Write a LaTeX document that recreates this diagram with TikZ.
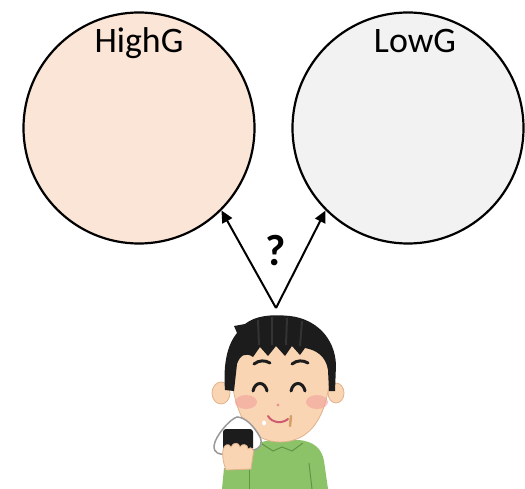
\documentclass[tikz,border=0pt]{standalone}
\usepackage{fontspec}
\setmainfont{Carlito}
\usepackage{tikz}
\usetikzlibrary{arrows.meta, positioning}
\definecolor{highfill}{RGB}{251, 229, 214}
\definecolor{lowfill}{RGB}{242, 242, 242}
\definecolor{skin}{RGB}{249, 213, 180}
\definecolor{skinline}{RGB}{226, 178, 140}
\definecolor{hair}{RGB}{28, 28, 28}
\definecolor{shirt}{RGB}{141, 195, 104}
\definecolor{shirtline}{RGB}{98, 148, 70}
\definecolor{cheek}{RGB}{243, 160, 155}
\definecolor{mouth}{RGB}{206, 92, 112}
\definecolor{food}{RGB}{214, 160, 105}

\begin{document}
\begin{tikzpicture}[x=1bp, y=-1bp,
      group/.style={
        circle, draw=black, line width=2.2bp,
        minimum size=231bp, inner sep=0pt
      },
      title/.style={font=\fontsize{36}{40}\selectfont, anchor=base},
      arr/.style={-{Triangle[length=12bp, width=11bp]}, line width=2bp, color=black},
      face/.style={line width=3bp, line cap=round, color=hair}
  ]
    \useasboundingbox (0,0) rectangle (525,489);

    % the two groups
    \node[group, fill=highfill] (high) at (139,128) {};
    \node[group, fill=lowfill]  (low)  at (408,128) {};
    \node[title] (hightxt) at (139,53) {HighG};
    \node[title] (lowtxt)  at (415,53) {LowG};

    % which one?
    \coordinate (apex) at (276,308);
    \draw[arr] (apex) -- (high.south east);
    \draw[arr] (apex) -- (low.south west);
    \node[font=\bfseries\fontsize{44}{48}\selectfont] (q) at (276,251) {?};

    % boy eating an onigiri
    \fill[shirt] (244,489) -- (246,456) .. controls (250,445) and (262,440) .. (276,440)
      -- (298,440) .. controls (314,441) and (322,449) .. (324,461) -- (328,489) -- cycle;
    \draw[shirtline, line width=1bp] (262,444) -- (273,451) -- (282,447) -- (292,451) -- (303,443);
    \draw[shirtline, line width=1bp] (309,463) -- (312,489);

    \filldraw[fill=skin, draw=skinline, line width=.8bp] (221,393) ellipse (9 and 11);
    \filldraw[fill=skin, draw=skinline, line width=.8bp] (336,393) ellipse (8 and 10);
    \filldraw[fill=skin, draw=skinline, line width=.8bp] (231,345) .. controls (228,421) and (254,442) .. (280,442)
      .. controls (308,442) and (333,421) .. (331,345) -- cycle;

    \fill[hair] (225,390) .. controls (223,365) and (227,345) .. (237,333) -- (234,326) -- (245,324)
      .. controls (255,316) and (270,314) .. (290,316) .. controls (316,319) and (335,338) .. (336,365)
      -- (335,391) -- (329,391) -- (328,370) .. controls (326,356) and (316,350) .. (305,348)
      -- (300,355) -- (292,346) -- (285,356) -- (276,346) -- (268,356) -- (260,347) -- (253,357)
      .. controls (246,352) and (240,355) .. (237,364) -- (234,391) -- cycle;
    \draw[black!80, line width=2bp] (258,320) -- (259,345) (272,317) -- (272,345) (287,318) -- (286,345) (302,321) -- (300,346);

    \fill[cheek, opacity=.6] (246,402) ellipse (11 and 7);
    \fill[cheek, opacity=.6] (317,402) ellipse (11 and 7);
    \draw[face] (254,364) .. controls (259,360) and (265,360) .. (270,363);
    \draw[face] (292,364) .. controls (297,360) and (303,360) .. (308,363);
    \draw[face] (253,391) .. controls (255,381) and (265,381) .. (267,391);
    \draw[face] (291,391) .. controls (293,381) and (303,381) .. (305,391);
    \fill[cheek!80!mouth] (278,405) circle (1.6);
    \draw[mouth, line width=2bp, line cap=round] (268,416) .. controls (272,423) and (282,424) .. (288,419);
    \draw[food, line width=2.5bp, line cap=round] (291,416) -- (290,426);
    \fill[white] (264,423) ellipse (2 and 2.5);

    \fill[shirt] (222,489) -- (224,468) -- (252,468) -- (252,489) -- cycle;
    \draw[shirtline, line width=1bp] (249,470) -- (249,489);
    \filldraw[fill=white, draw=black!40, line width=1.5bp] (237,417) .. controls (230,419) and (215,436) .. (214,446)
      .. controls (214,453) and (219,455) .. (226,454) -- (253,450) .. controls (260,449) and (263,444) .. (260,437)
      .. controls (254,426) and (245,417) .. (237,417) -- cycle;
    \fill[hair, rounded corners=3bp] (223,429) rectangle (253,451);
    \filldraw[fill=skin, draw=skinline, line width=.8bp] (223,450) .. controls (224,444) and (229,443) .. (231,447)
      .. controls (233,442) and (239,442) .. (240,447) .. controls (242,443) and (248,444) .. (248,449)
      .. controls (251,446) and (255,449) .. (253,455) -- (251,469) -- (226,470)
      .. controls (223,462) and (222,455) .. (223,450) -- cycle;
  \end{tikzpicture}
\end{document}
